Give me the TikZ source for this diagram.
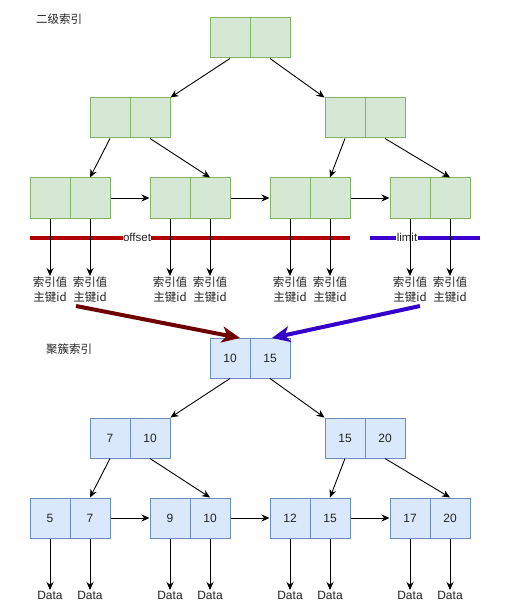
\documentclass[tikz,border=0pt]{standalone}
\usepackage{fontspec}
\setmainfont{Liberation Sans}
\newfontfamily\cjk{Noto Sans CJK SC}
\usetikzlibrary{arrows.meta}
\definecolor{gfill}{HTML}{D5E8D4}
\definecolor{gline}{HTML}{82B366}
\definecolor{bfill}{HTML}{DAE8FC}
\definecolor{bline}{HTML}{6C8EBF}
\definecolor{offred}{HTML}{B00000}
\definecolor{limblue}{HTML}{3A00D0}
\definecolor{darkred}{HTML}{6F0000}
\definecolor{bigblue}{HTML}{3300CC}
\definecolor{txt}{HTML}{222222}
\begin{document}
\begin{tikzpicture}[x=1pt,y=-1pt,
  font=\fontsize{12}{14}\selectfont,
  gcell/.style={draw=gline,fill=gfill,minimum width=40pt,minimum height=40pt,inner sep=0pt,line width=1pt},
  bcell/.style={draw=bline,fill=bfill,minimum width=40pt,minimum height=40pt,inner sep=0pt,line width=1pt,text=txt},
  arr/.style={-{Stealth[length=8pt,width=7pt]},line width=0.9pt,black},
  keylab/.style={anchor=north,inner sep=1pt,align=center,font=\cjk\fontsize{11.5}{14.5}\selectfont,text=txt},
  datalab/.style={anchor=north,inner sep=1pt,text=txt},
  barlab/.style={fill=white,inner sep=0.5pt,text=txt,font=\fontsize{11.5}{13}\selectfont},
  title/.style={font=\cjk\fontsize{11.5}{13}\selectfont,text=txt}]
\useasboundingbox (0,0) rectangle (516,612);

% titles
\node[title] (t1) at (59,19) {二级索引};
\node[title] (t2) at (69,349) {聚簇索引};

% secondary index tree (green)
\node[gcell] (g0a) at (230,38) {};
\node[gcell] (g0b) at (270,38) {};
\node[gcell] (g1a) at (110,118) {};
\node[gcell] (g1b) at (150,118) {};
\node[gcell] (g2a) at (345,118) {};
\node[gcell] (g2b) at (385,118) {};
\foreach \i/\x in {1/50,2/170,3/290,4/410}{
  \node[gcell] (l\i a) at (\x,198) {};
  \node[gcell] (l\i b) at (\x+40,198) {};
  \node[keylab] (k\i a) at (\x,276) {索引值\\主键id};
  \node[keylab] (k\i b) at (\x+40,276) {索引值\\主键id};
}
\draw[arr] (g0a.south) -- (g1b.north east);
\draw[arr] (g0b.south) -- (g2a.north west);
\draw[arr] (g1a.south) -- (l1b.north);
\draw[arr] (g1b.south) -- (l2b.north);
\draw[arr] (g2a.south) -- (l3b.north);
\draw[arr] (g2b.south) -- (l4b.north);
\draw[arr] (l1b.east) -- (l2a.west);
\draw[arr] (l2b.east) -- (l3a.west);
\draw[arr] (l3b.east) -- (l4a.west);

% offset / limit bars (drawn under the key arrows)
\coordinate (o1) at (30,238);
\coordinate (o2) at (350,238);
\coordinate (m1) at (370,238);
\coordinate (m2) at (480,238);
\draw[line width=4pt,offred] (o1) -- (o2);
\draw[line width=4pt,limblue] (m1) -- (m2);
\node[barlab] (ol) at (137,237) {offset};
\node[barlab] (ll) at (407,237) {limit};

\foreach \i in {1,2,3,4}{
  \draw[arr] (l\i a.south) -- (k\i a.north);
  \draw[arr] (l\i b.south) -- (k\i b.north);
}

% clustered index tree (blue)
\node[bcell] (b0a) at (230,358) {10};
\node[bcell] (b0b) at (270,358) {15};
\node[bcell] (b1a) at (110,438) {7};
\node[bcell] (b1b) at (150,438) {10};
\node[bcell] (b2a) at (345,438) {15};
\node[bcell] (b2b) at (385,438) {20};
\foreach \i/\x/\va/\vb in {1/50/5/7,2/170/9/10,3/290/12/15,4/410/17/20}{
  \node[bcell] (c\i a) at (\x,518) {\va};
  \node[bcell] (c\i b) at (\x+40,518) {\vb};
  \node[datalab] (d\i a) at (\x,590) {Data};
  \node[datalab] (d\i b) at (\x+40,590) {Data};
  \draw[arr] (c\i a.south) -- (d\i a.north);
  \draw[arr] (c\i b.south) -- (d\i b.north);
}
\draw[arr] (b0a.south) -- (b1b.north east);
\draw[arr] (b0b.south) -- (b2a.north west);
\draw[arr] (b1a.south) -- (c1b.north);
\draw[arr] (b1b.south) -- (c2b.north);
\draw[arr] (b2a.south) -- (c3b.north);
\draw[arr] (b2b.south) -- (c4b.north);
\draw[arr] (c1b.east) -- (c2a.west);
\draw[arr] (c2b.east) -- (c3a.west);
\draw[arr] (c3b.east) -- (c4a.west);

% big arrows
\coordinate (rs) at (76,306);
\coordinate (re) at (240,338);
\coordinate (bs) at (420,306);
\coordinate (be) at (272,338);
\draw[line width=4pt,darkred,-{Stealth[length=18pt,width=16pt,inset=5pt]}] (rs) -- (re);
\draw[line width=4pt,bigblue,-{Stealth[length=18pt,width=16pt,inset=5pt]}] (bs) -- (be);
\end{tikzpicture}
\end{document}
